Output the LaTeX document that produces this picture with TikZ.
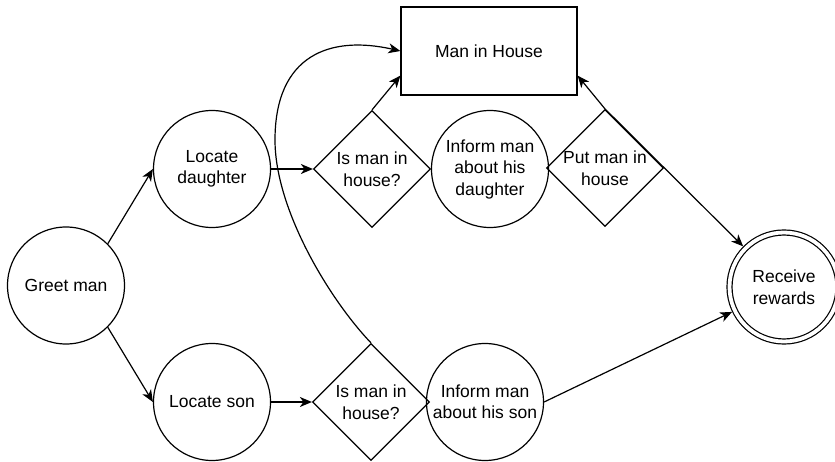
\documentclass[tikz,border=0pt]{standalone}
\usepackage{fontspec}
\setmainfont{Liberation Sans}
\usetikzlibrary{shapes.geometric,arrows.meta}

\begin{document}
\begin{tikzpicture}[x=1pt,y=-1pt,
  every node/.style={font=\fontsize{17.5}{21.5}\selectfont, align=center, text=black},
  state/.style={draw, circle, line width=1.2pt, minimum size=117pt, inner sep=0pt},
  final/.style={draw, circle, line width=1.2pt, double, double distance=3.8pt,
    minimum size=109pt, inner sep=0pt, outer sep=3.1pt},
  decision/.style={draw, diamond, aspect=1, line width=1.2pt,
    minimum width=117pt, minimum height=117pt, inner sep=0pt},
  box/.style={draw, rectangle, line width=1.2pt, minimum width=176pt, minimum height=88pt},
  flow/.style={line width=1.2pt, -{Stealth[length=12pt,width=10pt,inset=3.5pt]}}]

  \useasboundingbox (0,0) rectangle (835,462);

  % nodes
  \node[state] (gm) at (66,285.5) {Greet man};
  \node[state] (ld) at (212,169) {Locate\\daughter};
  \node[state] (ls) at (212,402) {Locate son};
  \node[decision, label={center:{Is man in\\house?}}] (d1) at (372,169) {};
  \node[decision, label={center:{Is man in\\house?}}] (d2) at (371,402) {};
  \node[state] (id) at (490,169) {Inform man\\about his\\daughter};
  \node[state] (is) at (485,402) {Inform man\\about his son};
  \node[decision, label={center:{Put man in\\house}}] (put) at (605,168) {};
  \node[box] (mih) at (489,51) {Man in House};
  \node[final] (rew) at (784,287) {Receive\\rewards};
  \coordinate (bend) at (275,140);

  % connectors
  \draw[flow] (gm.45) -- (ld.west);
  \draw[flow] (gm.-45) -- (ls.west);
  \draw[flow] (ld) -- (d1);
  \draw[flow] (ls) -- (d2);
  \draw[flow] (d1.north) -- ([yshift=20pt]mih.south west);
  \draw[flow] (put.north) -- ([yshift=20pt]mih.south east);
  \draw[flow] (put.north) -- (rew);
  \draw[flow] (is.east) -- (rew);
  \draw[flow] (d2.north) .. controls (330,300) and (275,210) .. (bend)
    .. controls (275,55) and (330,35) .. (mih.west);
\end{tikzpicture}
\end{document}
